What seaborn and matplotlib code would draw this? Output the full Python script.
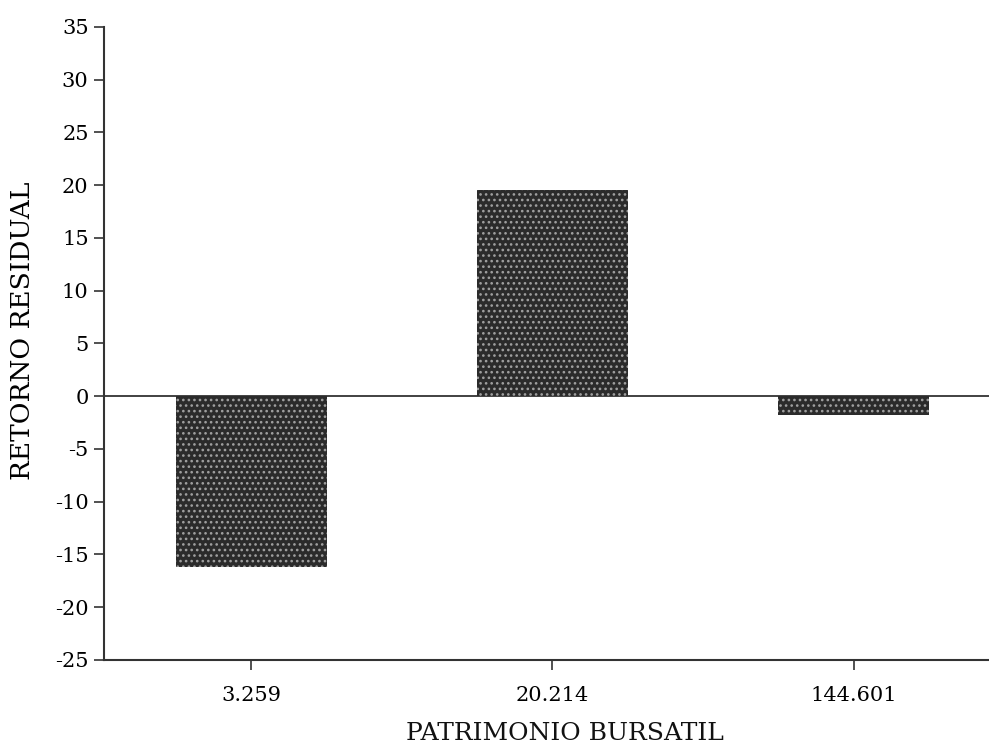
import matplotlib
matplotlib.use("Agg")
import matplotlib.pyplot as plt
import seaborn as sns
import pandas as pd

# valores
patrimonio = ["3.259", "20.214", "144.601"]
retorno = [-16.2, 19.5, -1.8]
y_ticks = list(range(-25, 40, 5))

sns.set_style("ticks")
plt.rcParams['font.family'] = ['DejaVu Serif']
plt.rcParams['axes.unicode_minus'] = False
plt.rcParams['hatch.linewidth'] = 1.1

df = pd.DataFrame({"patrimonio": patrimonio, "retorno": retorno})

fig = plt.figure(figsize=(9.89, 7.47), dpi=100)
ax = fig.add_axes([0.105, 0.1165, 0.895, 0.8475])

sns.barplot(data=df, x="patrimonio", y="retorno", color="#2b2b2b",
            width=0.5, saturation=1, ax=ax, zorder=3)

# trama punteada de las barras
for p in ax.patches:
    p.set_hatch("...")
    p.set_edgecolor("#a0a0a0")
    p.set_linewidth(0)

ax.axhline(0, color="#333333", lw=1.3, zorder=2)

ax.set_xlim(-0.49, 2.45)
ax.set_ylim(-25, 35)
ax.set_yticks(y_ticks)

sns.despine(ax=ax)
for s in ["left", "bottom"]:
    ax.spines[s].set_linewidth(1.5)
    ax.spines[s].set_color("#333333")

ax.tick_params(axis="both", direction="out", length=7, width=1.2,
               color="#333333", labelsize=15, labelcolor="#000000")
ax.tick_params(axis="y", pad=4)
ax.tick_params(axis="x", pad=12)

ax.set_xlabel("PATRIMONIO BURSATIL", fontsize=18, color="#111111")
ax.set_ylabel("RETORNO RESIDUAL", fontsize=19, color="#000000")
ax.xaxis.set_label_coords(0.521, -0.098)
ax.yaxis.set_label_coords(-0.078, 0.52)

fig.savefig("out.png", dpi=100)
